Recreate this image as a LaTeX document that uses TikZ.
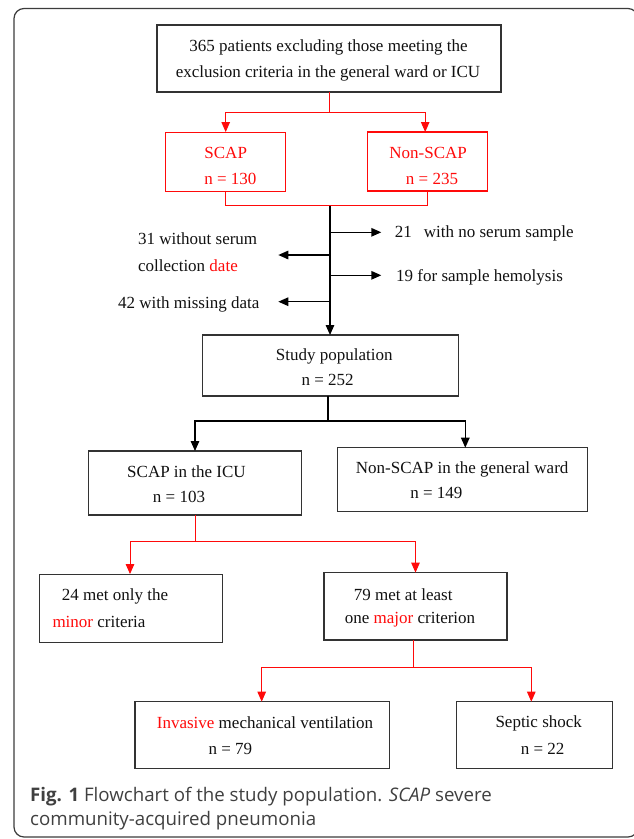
\documentclass[tikz,border=0pt]{standalone}
\usepackage{fontspec}
\setmainfont{Liberation Serif}
\newfontfamily\capfont{Open Sans}
\usetikzlibrary{arrows.meta,calc}
\definecolor{fr}{HTML}{3C3C3C}
\definecolor{bx}{HTML}{333333}
\definecolor{rd}{HTML}{FF0A0A}
\definecolor{capgray}{HTML}{404040}
\definecolor{tx}{HTML}{111111}
\begin{document}
\begin{tikzpicture}[x=1pt,y=-1pt,
  box/.style 2 args={draw=bx,line width=1.1pt,inner sep=0pt,outer sep=0pt,minimum width=#1,minimum height=#2},
  rbox/.style 2 args={draw=rd,line width=1.1pt,inner sep=0pt,outer sep=0pt,minimum width=#1,minimum height=#2},
  txt/.style={font=\fontsize{17}{20}\selectfont,inner sep=0pt,text=tx},
  rtxt/.style={font=\fontsize{17}{20}\selectfont,inner sep=0pt,text=rd},
  rl/.style={draw=rd,line width=1pt},
  bl/.style={draw=black,line width=1.4pt},
  arr/.style={-{Triangle[length=10pt,width=8.5pt]}},
  capt/.style={anchor=base west,inner sep=0pt,text=capgray,font=\capfont\fontsize{18.7}{23}\selectfont}]
\useasboundingbox (0,0) rectangle (633,839);
% outer frame
\draw[fr,line width=1.2pt,rounded corners=10pt] (14,8.5) rectangle (638,837);
% boxes
\node[box={344}{67}] (top) at (329,58.5) {};
\node[rbox={120}{59.3}] (scap) at (225.7,161.7) {};
\node[rbox={119.7}{59}] (nonscap) at (427.2,161.5) {};
\node[box={256.4}{61}] (study) at (330.5,365.5) {};
\node[box={213.4}{64}] (icu) at (195,483) {};
\node[box={250}{64}] (ward) at (462.3,479.7) {};
\node[box={183.4}{68.3}] (minor) at (131,608.2) {};
\node[box={183}{67.3}] (major) at (415.5,606.3) {};
\node[box={254.7}{66.6}] (imv) at (262.3,735) {};
\node[box={156}{66.6}] (septic) at (534.3,735) {};
% texts
\node[txt] (t1) at (328.5,47) {365 patients excluding those meeting the};
\node[txt] (t2) at (328,73) {exclusion criteria in the general ward or ICU};
\node[rtxt] (t3) at (225.7,152.7) {SCAP};
\node[rtxt] (t4) at (230.3,178.7) {n = 130};
\node[rtxt] (t5) at (428.2,152.7) {Non-SCAP};
\node[rtxt] (t6) at (432,178.7) {n = 235};
\node[txt,anchor=west] (t7) at (394.7,233) {21\hspace{12pt}with no serum sample};
\node[txt,anchor=west] (t8) at (396,277.5) {19 for sample hemolysis};
\node[txt,anchor=west] (t9) at (138,239) {31 without serum};
\node[txt,anchor=west] (t10) at (138,265.7) {collection \textcolor{rd}{date}};
\node[txt,anchor=west] (t11) at (118,304) {42 with missing data};
\node[txt] (t12) at (334.3,356) {Study population};
\node[txt] (t13) at (327.7,380) {n = 252};
\node[txt] (t14) at (186.5,471.7) {SCAP in the ICU};
\node[txt] (t15) at (179,496.7) {n = 103};
\node[txt] (t16) at (462.2,469) {Non-SCAP in the general ward};
\node[txt] (t17) at (436.3,493.3) {n = 149};
\node[txt,anchor=west] (t18) at (61.7,596.7) {24 met only the};
\node[txt,anchor=west] (t19) at (52.3,622.3) {\textcolor{rd}{minor} criteria};
\node[txt,anchor=west] (t20) at (353.7,594.3) {79 met at least};
\node[txt,anchor=west] (t21) at (344.7,620) {one \textcolor{rd}{major} criterion};
\node[txt,anchor=west] (t22) at (156.7,722.7) {\textcolor{rd}{Invasive} mechanical ventilation};
\node[txt] (t23) at (230.3,749) {n = 79};
\node[txt] (t24) at (538.7,723.3) {Septic shock};
\node[txt] (t25) at (542.7,749) {n = 22};
% caption
\node[capt] (cap1) at (30,801) {\textbf{Fig. 1} Flowchart of the study population. \textit{SCAP} severe};
\node[capt] (cap2) at (30,825) {community-acquired pneumonia};
% connectors: top to SCAP / Non-SCAP
\coordinate (j1) at (329,112);
\draw[rl] (top.south) -- (j1);
\draw[rl,arr] (j1) -| (scap.north);
\draw[rl,arr] (j1) -| ([xshift=-2pt]nonscap.north);
% merge
\coordinate (j2) at (330,205.7);
\draw[rl] (scap.south) |- (j2) -| (nonscap.south);
\draw[bl,arr] (j2) -- (j2 |- study.north);
% side exclusions
\coordinate (s1) at (330,232.3); \coordinate (e1) at (381.3,232.3);
\coordinate (s2) at (330,255);   \coordinate (e2) at (278.3,255);
\coordinate (s3) at (330,275.3); \coordinate (e3) at (381.3,275.3);
\coordinate (s4) at (330,301.7); \coordinate (e4) at (278.3,301.7);
\draw[bl,arr] (s1) -- (e1);
\draw[bl,arr] (s2) -- (e2);
\draw[bl,arr] (s3) -- (e3);
\draw[bl,arr] (s4) -- (e4);
% study split
\coordinate (j3) at (328,421);
\draw[bl] (j3 |- study.south) -- (j3);
\draw[bl,arr] (j3) -| (icu.north);
\draw[bl,arr] (j3) -| ([xshift=3pt]ward.north);
% ICU split
\coordinate (j4) at (195,541.7);
\draw[rl] (icu.south) -- (j4);
\draw[rl,arr] (j4) -| ([xshift=-1pt]minor.north);
\draw[rl,arr] (j4) -| (major.north);
% major split
\coordinate (j5) at (413.7,667);
\draw[rl] (j5 |- major.south) -- (j5);
\draw[rl,arr] (j5) -| ([xshift=-0.6pt]imv.north);
\draw[rl,arr] (j5) -| ([xshift=-3pt]septic.north);
\end{tikzpicture}
\end{document}
